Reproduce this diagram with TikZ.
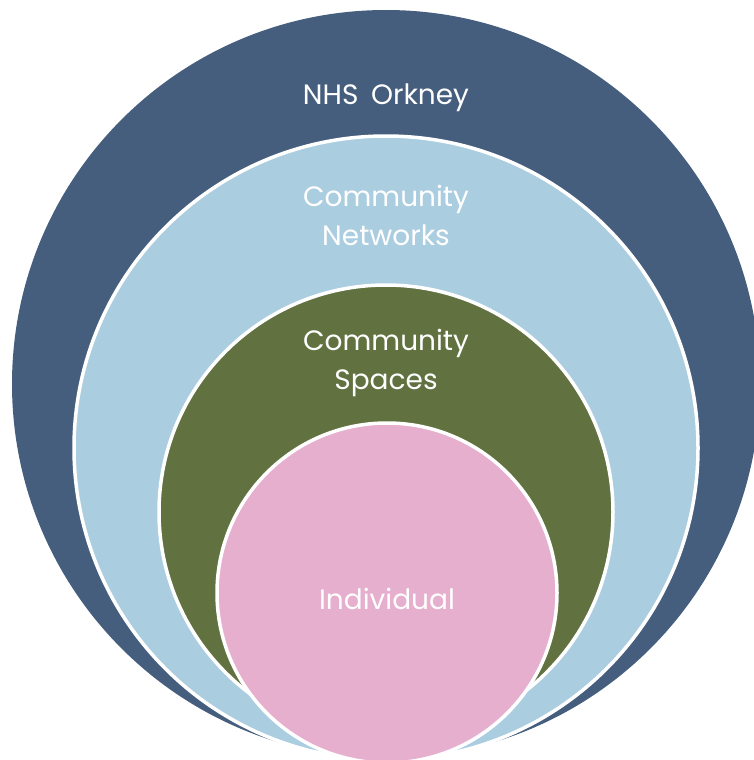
\documentclass[tikz,border=0pt]{standalone}
\usepackage{fontspec}
\setsansfont{Poppins}
\usepackage{tikz}
\usetikzlibrary{positioning}

\definecolor{nhsblue}{HTML}{465E7D}
\definecolor{netblue}{HTML}{ABCDE0}
\definecolor{spacegreen}{HTML}{617240}
\definecolor{indpink}{HTML}{E6AFCE}

\begin{document}
\begin{tikzpicture}[x=1pt, y=1pt,
      ring/.style={circle, inner sep=0pt, outer sep=0pt, draw=white, line width=3.5pt},
      lbl/.style={text=white, align=center, inner sep=0pt, font=\sffamily\fontsize{28}{39}\selectfont},
    ]
      \useasboundingbox (0,0) rectangle (753,-760);

      % nested circles, all resting on the bottom
      \node[circle, inner sep=0pt, outer sep=0pt, fill=nhsblue, minimum size=748pt] (nhs) at (386,-384) {};
      \node[ring, fill=netblue, minimum size=624pt] (net) at (386,-448) {};
      \node[ring, fill=spacegreen, minimum size=454pt] (spaces) at (386,-512) {};
      \node[ring, fill=indpink, minimum size=340pt] (ind) at (387,-593) {};

      \node[lbl, below=74pt of nhs.north] (nhstext) {NHS\hspace{0.45em}Orkney};
      \node[lbl, below=49pt of net.north] (nettext) {Community\\Networks};
      \node[lbl, below=44pt of spaces.north] (spacestext) {Community\\Spaces};
      \node[lbl, below=165pt of ind.north] (indtext) {Individual};
    \end{tikzpicture}
\end{document}
